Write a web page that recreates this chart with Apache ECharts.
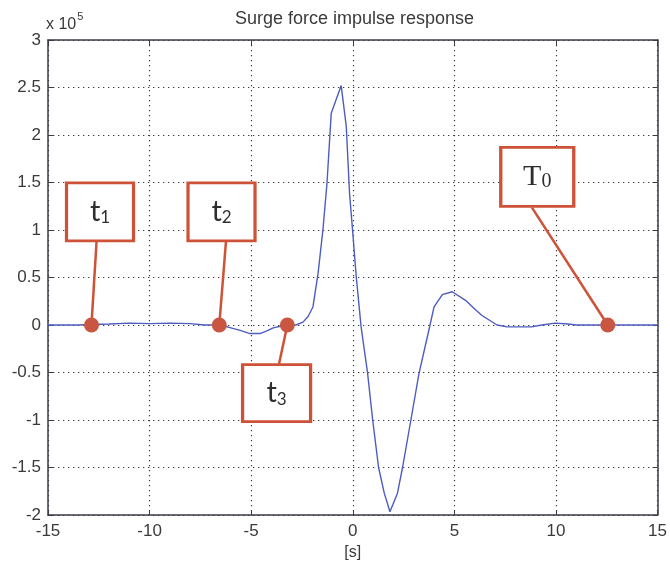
<!DOCTYPE html>
<html>
<head>
<meta charset="utf-8">
<script src="https://cdn.jsdelivr.net/npm/echarts@6/dist/echarts.min.js"></script>
<style>
  html, body { margin: 0; padding: 0; background: #fff; }
  #chart { width: 670px; height: 567px; }
</style>
</head>
<body>
<div id="chart"></div>
<script>
// Time axis [s] and surge force (in units of 1e5)
const timeS = [
  -15, -13.5, -12, -11, -10, -9, -8, -7.3, -6.5, -6, -5.5, -5.06, -4.57, -4.2, -3.92, -3.5,
  -3.18, -2.8, -2.45, -2.2, -1.96, -1.71, -1.47, -1.27, -1.06, -0.57, -0.32, -0.16, 0, 0.17,
  0.41, 0.73, 0.98, 1.27, 1.55, 1.83, 2.2, 2.45, 2.86, 3.26, 3.75, 4.0, 4.41, 4.89, 5.55,
  6.04, 6.36, 7.1, 7.6, 8.8, 9.3, 9.96, 10.6, 11, 15
];
const forceE5 = [
  0, 0, 0.01, 0.02, 0.015, 0.02, 0.015, 0, 0, -0.03, -0.06, -0.09, -0.09, -0.06, -0.03, -0.01,
  0, 0, 0.03, 0.09, 0.19, 0.54, 1.0, 1.49, 2.23, 2.52, 2.09, 1.39, 0.97, 0.51,
  -0.02, -0.51, -1.0, -1.5, -1.77, -1.965, -1.77, -1.5, -1.0, -0.51, -0.05, 0.19, 0.32, 0.35, 0.26,
  0.16, 0.1, 0, -0.02, -0.02, 0, 0.02, 0.01, 0, 0
];

// Marked instants on the response
const eventNames = ['t1', 't2', 't3', 'T0'];
const eventTimes = [-12.86, -6.57, -3.22, 12.55];
const eventForce = [0, 0, 0, 0];

// Callout boxes (centre) and the point where each leader leaves its box, in axis units
const boxX = [-12.44, -6.46, -3.75, 9.08];
const boxY = [1.19, 1.19, -0.716, 1.56];
const leadX = [-12.61, -6.24, -3.63, 8.82];
const leadY = [0.88, 0.88, -0.41, 1.235];

// Tick labels
const xTicks = ['-15', '-10', '-5', '0', '5', '10', '15'];
const yTicks = ['-2', '-1.5', '-1', '-0.5', '0', '0.5', '1', '1.5', '2', '2.5', '3'];

const curveColor = '#4c5cc0';
const accent = '#cd5238';
const frameColor = '#3b3b46';
const labelFont = 'Liberation Sans';

const curve = timeS.map((t, i) => [t, forceE5[i]]);
const events = eventTimes.map((t, i) => [t, eventForce[i]]);
const leaders = eventTimes.map((t, i) => ({ coords: [[leadX[i], leadY[i]], [t, eventForce[i]]] }));
const boxes = boxX.map((x, i) => ({
  value: [x, boxY[i]],
  name: eventNames[i],
  symbolSize: eventNames[i] === 'T0' ? [73, 59] : (eventNames[i] === 't3' ? [68, 57] : [67, 58])
}));

function tickLabel(list, step, min) {
  return function (v) {
    const idx = Math.round((v - min) / step);
    return list[idx] !== undefined ? list[idx] : '';
  };
}

const dotted = { show: true, lineStyle: { color: '#3a3a3a', width: 1.2, type: [1.3, 3.7] } };

const chart = echarts.init(document.getElementById('chart'), null, { renderer: 'canvas' });
chart.setOption({
  animation: false,
  backgroundColor: '#ffffff',
  title: {
    text: 'Surge force impulse response',
    left: 230, top: 5,
    textStyle: { fontFamily: labelFont, fontSize: 18, fontWeight: 'normal', color: '#3a3a3a' }
  },
  graphic: [{
    type: 'text', left: 46, top: 11,
    style: {
      text: '{a|x 10}{b|5}',
      rich: {
        a: { fontFamily: labelFont, fontSize: 16, fill: '#3a3a3a', padding: [6, 0, 0, 0] },
        b: { fontFamily: labelFont, fontSize: 11, fill: '#3a3a3a', verticalAlign: 'top', padding: [0, 0, 6, 1] }
      }
    }
  }],
  grid: { left: 48, right: 10, top: 40, bottom: 52 },
  xAxis: [{
    type: 'value', min: -15, max: 15, interval: 5,
    name: '[s]', nameLocation: 'middle', nameGap: 30,
    nameTextStyle: { fontFamily: labelFont, fontSize: 16, color: '#3a3a3a' },
    axisLine: { show: true, onZero: false, lineStyle: { color: frameColor, width: 1.5 } },
    axisTick: { show: true, inside: true, length: 5, lineStyle: { color: frameColor } },
    axisLabel: { fontFamily: labelFont, fontSize: 17, color: '#3a3a3a', margin: 8, formatter: tickLabel(xTicks, 5, -15) },
    splitLine: dotted
  }, {
    type: 'value', min: -15, max: 15, interval: 5, position: 'top',
    axisLine: { show: true, onZero: false, lineStyle: { color: frameColor, width: 1.5 } },
    axisTick: { show: true, inside: true, length: 5, lineStyle: { color: frameColor } },
    axisLabel: { show: false }, splitLine: { show: false }
  }],
  yAxis: [{
    type: 'value', min: -2, max: 3, interval: 0.5,
    axisLine: { show: true, onZero: false, lineStyle: { color: frameColor, width: 1.5 } },
    axisTick: { show: true, inside: true, length: 5, lineStyle: { color: frameColor } },
    axisLabel: { fontFamily: labelFont, fontSize: 17, color: '#3a3a3a', margin: 7, formatter: tickLabel(yTicks, 0.5, -2) },
    splitLine: dotted
  }, {
    type: 'value', min: -2, max: 3, interval: 0.5, position: 'right',
    axisLine: { show: true, onZero: false, lineStyle: { color: frameColor, width: 1.5 } },
    axisTick: { show: true, inside: true, length: 5, lineStyle: { color: frameColor } },
    axisLabel: { show: false }, splitLine: { show: false }
  }],
  series: [{
    type: 'line', name: 'Surge force', data: curve,
    showSymbol: false, smooth: false, z: 3,
    lineStyle: { color: curveColor, width: 1.4 }
  }, {
    type: 'lines', coordinateSystem: 'cartesian2d', data: leaders, z: 4,
    lineStyle: { color: accent, width: 2.5, opacity: 1 }
  }, {
    type: 'scatter', data: events, z: 5,
    symbol: 'circle', symbolSize: 15,
    itemStyle: { color: '#c95640', opacity: 1 }
  }, {
    type: 'scatter', data: boxes, z: 6,
    symbol: 'rect',
    itemStyle: { color: '#ffffff', borderColor: accent, borderWidth: 3, opacity: 1 },
    label: {
      show: true, position: 'inside',
      formatter: function (p) {
        const n = p.name;
        return n === 'T0' ? '{T|T}{s0|0}' : '{t|t}{s|' + n.slice(1) + '}';
      },
      rich: {
        t: { fontFamily: 'Lato', fontSize: 29, color: '#2e2e2e' },
        s: { fontFamily: 'Lato', fontSize: 17, color: '#2e2e2e', padding: [12, 0, 0, 0] },
        T: { fontFamily: 'Liberation Serif', fontSize: 30, color: '#2e2e2e' },
        s0: { fontFamily: 'Liberation Serif', fontSize: 20, color: '#2e2e2e', padding: [10, 0, 0, 0] }
      }
    }
  }]
});
</script>
</body>
</html>
